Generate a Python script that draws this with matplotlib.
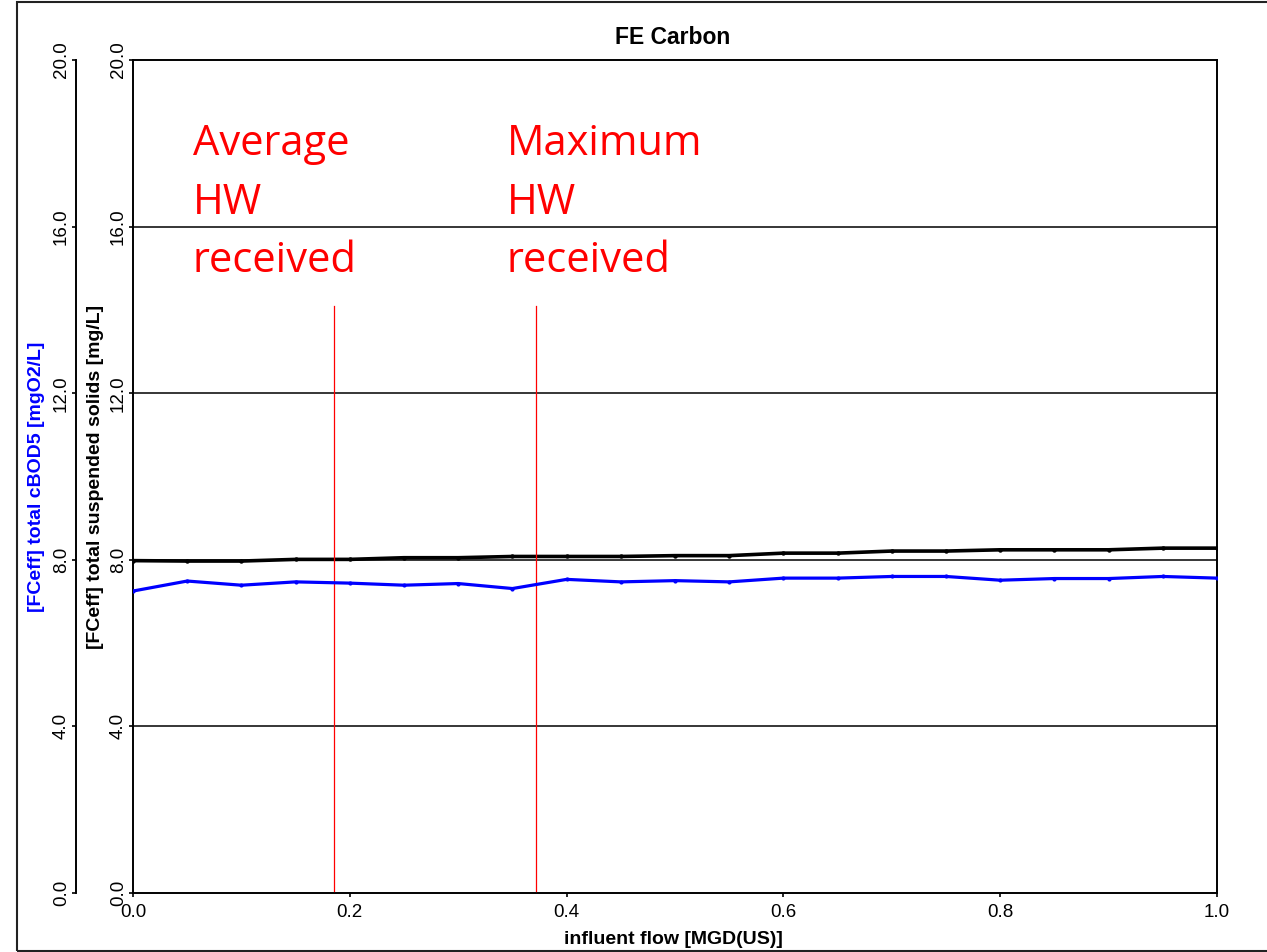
import matplotlib
matplotlib.use('Agg')
import matplotlib.pyplot as plt
from matplotlib.patches import Rectangle
from matplotlib.ticker import FormatStrFormatter

# ---------------- data ----------------
flow = [0.0, 0.05, 0.10, 0.15, 0.20, 0.25, 0.30, 0.35, 0.40, 0.45, 0.50,
        0.55, 0.60, 0.65, 0.70, 0.75, 0.80, 0.85, 0.90, 0.95, 1.0]
tss = [7.98, 7.97, 7.97, 8.01, 8.01, 8.05, 8.05, 8.08, 8.08, 8.08, 8.10,
       8.10, 8.16, 8.16, 8.21, 8.21, 8.24, 8.24, 8.24, 8.28, 8.28]
cbod5 = [7.25, 7.49, 7.39, 7.47, 7.44, 7.39, 7.43, 7.31, 7.53, 7.47, 7.50,
         7.47, 7.56, 7.56, 7.60, 7.60, 7.51, 7.55, 7.55, 7.60, 7.56]
hw_flows = [0.185, 0.3715]
hw_top = 14.1
hw_labels = ["Average\nHW\nreceived", "Maximum\nHW\nreceived"]
y_ticks = [0.0, 4.0, 8.0, 12.0, 16.0, 20.0]
x_ticks = [0.0, 0.2, 0.4, 0.6, 0.8, 1.0]

title = "FE Carbon"
xlabel = "influent flow [MGD(US)]"
ylabel_tss = "[FCeff] total suspended solids [mg/L]"
ylabel_bod = "[FCeff] total cBOD5 [mgO2/L]"

# ---------------- figure ----------------
plt.rcParams['font.family'] = ['Liberation Sans', 'DejaVu Sans']

W, H = 1267, 952
PX = 72 / 100  # points per pixel
fig = plt.figure(figsize=(W / 100, H / 100), dpi=100)
L, R, T, B = 133, 1217, 60, 893
ax = fig.add_axes([L / W, 1 - B / H, (R - L) / W, (B - T) / H])

# outer frame (right edge beyond canvas)
fig.patches.append(Rectangle((17 / W, 1.5 / H), 1.2, (950 - 1.5) / H,
                             transform=fig.transFigure, fill=False,
                             edgecolor='#222222', linewidth=1.5))

ax.set_xlim(0, 1.0)
ax.set_ylim(0, 20)
ax.set_xticks(x_ticks)
ax.set_yticks(y_ticks)
ax.xaxis.set_major_formatter(FormatStrFormatter('%.1f'))
ax.yaxis.set_major_formatter(FormatStrFormatter('%.1f'))
for sp in ax.spines.values():
    sp.set_linewidth(1.4)
    sp.set_color('black')
ax.tick_params(axis='both', direction='out', length=4 * PX, width=1.2,
               labelsize=13.5, colors='black')
ax.tick_params(axis='x', pad=5)
ax.tick_params(axis='y', labelrotation=90, pad=2 * PX)
for lab in ax.get_yticklabels():
    lab.set_va('center')

# horizontal grid
for yv in y_ticks[1:-1]:
    ax.axhline(yv, color='black', linewidth=1.1, zorder=1)

ax.plot(flow, tss, color='black', linewidth=2.6, marker='o', markersize=2.2,
        zorder=4)

# second axis (outer) for cBOD5
ax2 = ax.twinx()
ax2.set_ylim(0, 20)
ax2.set_yticks(y_ticks)
ax2.yaxis.set_major_formatter(FormatStrFormatter('%.1f'))
ax2.spines['left'].set_position(('outward', (L - 76) * PX))
ax2.spines['left'].set_visible(True)
ax2.spines['left'].set_linewidth(1.4)
for s in ['right', 'top', 'bottom']:
    ax2.spines[s].set_visible(False)
ax2.yaxis.set_ticks_position('left')
ax2.yaxis.set_label_position('left')
ax2.tick_params(axis='y', direction='out', length=4 * PX, width=1.2,
                labelsize=13.5, colors='black', pad=2 * PX, labelrotation=90)
for lab in ax2.get_yticklabels():
    lab.set_va('center')

ax2.plot(flow, cbod5, color='#0000ff', linewidth=2.3, marker='o',
         markersize=2.0, zorder=4)

# HW markers
for xv in hw_flows:
    ax.plot([xv, xv], [0.05, hw_top], color='red', linewidth=0.9, zorder=5)

for xv_px, label in zip([193, 507], hw_labels):
    for i, word in enumerate(label.split('\n')):
        ax.annotate(word, xy=((xv_px - L) / (R - L), (B - 155) / (B - T)),
                    xycoords='axes fraction',
                    xytext=(0, -i * 58.5 * PX), textcoords='offset points',
                    ha='left', va='baseline', color='red', fontsize=30,
                    family=['Open Sans', 'DejaVu Sans'])

# labels
ax.set_ylabel(ylabel_tss, fontsize=14, fontweight='bold', color='black')
ax.yaxis.label.set_va('center')
ax.yaxis.set_label_coords((96 - L) / (R - L), 0.5)
ax2.set_ylabel(ylabel_bod, fontsize=14, fontweight='bold', color='#0000ff')
ax2.yaxis.label.set_va('center')
ax2.yaxis.set_label_coords((37 - L) / (R - L), 0.5)

ax.set_xlabel(xlabel, fontsize=14, fontweight='bold')
ax.xaxis.label.set_va('center')
ax.xaxis.set_label_coords((673 - L) / (R - L), (B - 940) / (B - T))

fig.text(673 / W, 1 - 37 / H, title, ha='center', va='center',
         fontsize=16.5, fontweight='bold')

fig.savefig('out.png', dpi=100)
